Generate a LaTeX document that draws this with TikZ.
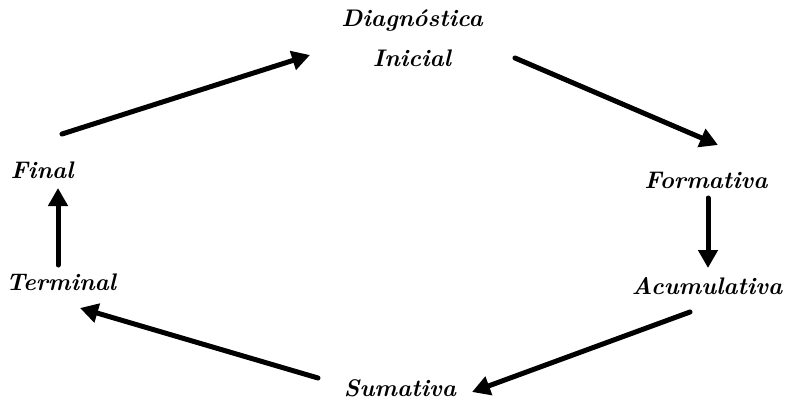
\documentclass[tikz,border=0pt]{standalone}
\usepackage{fontspec}
\usetikzlibrary{arrows.meta,calc}
\begin{document}
\begin{tikzpicture}[x=1pt,y=-1pt,
  lbl/.style={font=\fontsize{24}{40}\selectfont\bfseries\itshape, inner sep=0pt, align=center},
  arr/.style={line width=5pt, line cap=round, -{Triangle[length=18pt,width=19pt]}}]
\useasboundingbox (0,0) rectangle (797,405);
\node[lbl] (diag) at (412,38) {Diagnóstica\\Inicial};
\node[lbl] (form) at (706,180) {Formativa};
\node[lbl] (acum) at (707,286) {Acumulativa};
\node[lbl] (suma) at (400,388) {Sumativa};
\node[lbl] (term) at (61,282) {Terminal};
\node[lbl] (final) at (42,170) {Final};
\draw[arr] ($(final)+(20,-36)$) -- ($(diag)+(-102,17)$);
\draw[arr] ($(diag)+(103,20)$) -- ($(form)+(12,-35)$);
\draw[arr] ($(form)+(2,18)$) -- ($(acum)+(1,-18)$);
\draw[arr] ($(acum)+(-17,26)$) -- ($(suma)+(72,4)$);
\draw[arr] ($(suma)+(-82,-10)$) -- ($(term)+(19,26)$);
\draw[arr] ($(term)+(-3,-17)$) -- ($(final)+(16,18)$);
\end{tikzpicture}
\end{document}
